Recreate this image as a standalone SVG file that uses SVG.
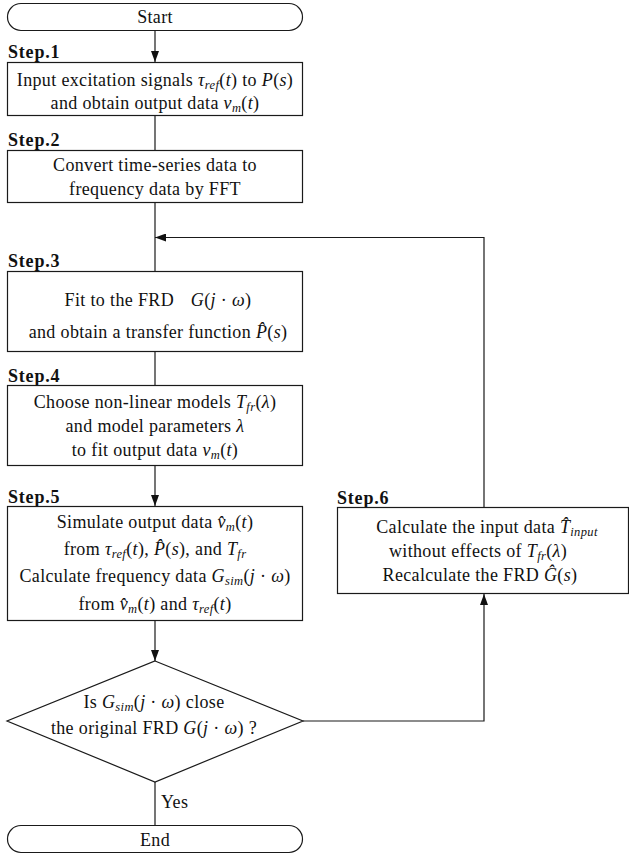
<svg xmlns="http://www.w3.org/2000/svg" width="629" height="859" viewBox="0 0 629 859">
<style>
.box{fill:#fff;stroke:#1a1a1a;stroke-width:1.2}
.ln{fill:none;stroke:#1a1a1a;stroke-width:1.2}
.t{font-family:"Liberation Serif","DejaVu Serif",serif;font-size:18px;letter-spacing:0.35px;fill:#111;text-anchor:middle}
.lbl{font-family:"Liberation Serif","DejaVu Serif",serif;font-size:18px;letter-spacing:0.8px;font-weight:bold;fill:#111}
.i{font-style:italic}
.s{font-style:italic;font-size:12.5px}
</style>
<defs>
<marker id="ah" markerUnits="userSpaceOnUse" markerWidth="11" markerHeight="8" refX="11" refY="4" orient="auto">
<path d="M0,0 L11,4 L0,8 z" fill="#111"/>
</marker>
</defs>
<g id="connectors">
<line class="ln" x1="155" y1="30" x2="155" y2="62" marker-end="url(#ah)"/>
<line class="ln" x1="155" y1="116" x2="155" y2="150"/>
<line class="ln" x1="155" y1="203" x2="155" y2="271"/>
<line class="ln" x1="155" y1="351" x2="155" y2="385"/>
<line class="ln" x1="155" y1="465" x2="155" y2="506" marker-end="url(#ah)"/>
<line class="ln" x1="155" y1="621" x2="155" y2="661" marker-end="url(#ah)"/>
<line class="ln" x1="155" y1="782" x2="155" y2="825"/>
<polyline class="ln" points="303,721 484,721 484,594" marker-end="url(#ah)"/>
<polyline class="ln" points="484,507 484,237.5 155,237.5" marker-end="url(#ah)"/>
<text class="t" x="161" y="808" style="text-anchor:start">Yes</text>
</g>
<g id="start">
<rect class="box" x="7.5" y="3.5" width="295" height="27" rx="13.5"/>
<text class="t" x="155" y="22.5">Start</text>
</g>
<g id="step1">
<text class="lbl" x="8" y="58">Step.1</text>
<rect class="box" x="7.5" y="62.5" width="295" height="53"/>
<text class="t" x="155" y="86">Input excitation signals <tspan class="i">τ</tspan><tspan class="s" dy="3">ref</tspan><tspan dy="-3">(</tspan><tspan class="i">t</tspan>) to <tspan class="i">P</tspan>(<tspan class="i">s</tspan>)</text>
<text class="t" x="155" y="108.5">and obtain output data <tspan class="i">v</tspan><tspan class="s" dy="3">m</tspan><tspan dy="-3">(</tspan><tspan class="i">t</tspan>)</text>
</g>
<g id="step2">
<text class="lbl" x="8" y="146">Step.2</text>
<rect class="box" x="7.5" y="150.5" width="295" height="52"/>
<text class="t" x="155" y="171">Convert time-series data to</text>
<text class="t" x="155" y="195">frequency data by FFT</text>
</g>
<g id="step3">
<text class="lbl" x="8" y="267">Step.3</text>
<rect class="box" x="7.5" y="271.5" width="295" height="80"/>
<text class="t" x="158" y="306">Fit to the FRD <tspan dx="12" class="i">G</tspan>(<tspan class="i">j</tspan> · <tspan class="i">ω</tspan>)</text>
<text class="t" x="158" y="338">and obtain a transfer function <tspan class="i">P&#x302;</tspan>(<tspan class="i">s</tspan>)</text>
</g>
<g id="step4">
<text class="lbl" x="8" y="382">Step.4</text>
<rect class="box" x="7.5" y="385.5" width="295" height="80"/>
<text class="t" x="155" y="408">Choose non-linear models <tspan class="i">T</tspan><tspan class="s" dy="3">fr</tspan><tspan dy="-3">(</tspan><tspan class="i">λ</tspan>)</text>
<text class="t" x="155" y="432">and model parameters <tspan class="i">λ</tspan></text>
<text class="t" x="155" y="456">to fit output data <tspan class="i">v</tspan><tspan class="s" dy="3">m</tspan><tspan dy="-3">(</tspan><tspan class="i">t</tspan>)</text>
</g>
<g id="step5">
<text class="lbl" x="8" y="503">Step.5</text>
<rect class="box" x="7.5" y="506.5" width="295" height="114"/>
<text class="t" x="155" y="528">Simulate output data <tspan class="i">v&#x302;</tspan><tspan class="s" dy="3">m</tspan><tspan dy="-3">(</tspan><tspan class="i">t</tspan>)</text>
<text class="t" x="155" y="555">from <tspan class="i">τ</tspan><tspan class="s" dy="3">ref</tspan><tspan dy="-3">(</tspan><tspan class="i">t</tspan>), <tspan class="i">P&#x302;</tspan>(<tspan class="i">s</tspan>), and <tspan class="i">T</tspan><tspan class="s" dy="3">fr</tspan></text>
<text class="t" x="155" y="582">Calculate frequency data <tspan class="i">G</tspan><tspan class="s" dy="3">sim</tspan><tspan dy="-3">(</tspan><tspan class="i">j</tspan> · <tspan class="i">ω</tspan>)</text>
<text class="t" x="155" y="610">from <tspan class="i">v&#x302;</tspan><tspan class="s" dy="3">m</tspan><tspan dy="-3">(</tspan><tspan class="i">t</tspan>) and <tspan class="i">τ</tspan><tspan class="s" dy="3">ref</tspan><tspan dy="-3">(</tspan><tspan class="i">t</tspan>)</text>
</g>
<g id="decision">
<polygon class="box" points="155,661 303,721 155,782 7,721"/>
<text class="t" x="154" y="708">Is <tspan class="i">G</tspan><tspan class="s" dy="3">sim</tspan><tspan dy="-3">(</tspan><tspan class="i">j</tspan> · <tspan class="i">ω</tspan>) close</text>
<text class="t" x="154" y="734">the original FRD <tspan class="i">G</tspan>(<tspan class="i">j</tspan> · <tspan class="i">ω</tspan>) ?</text>
</g>
<g id="step6">
<text class="lbl" x="337" y="504">Step.6</text>
<rect class="box" x="337.5" y="507.5" width="291" height="86"/>
<text class="t" x="487" y="533">Calculate the input data <tspan class="i">T&#x302;</tspan><tspan class="s" dy="3">input</tspan></text>
<text class="t" x="478" y="557">without effects of <tspan class="i">T</tspan><tspan class="s" dy="3">fr</tspan><tspan dy="-3">(</tspan><tspan class="i">λ</tspan>)</text>
<text class="t" x="480" y="581">Recalculate the FRD <tspan class="i">Ĝ</tspan>(<tspan class="i">s</tspan>)</text>
</g>
<g id="end">
<rect class="box" x="7.5" y="825.5" width="295" height="27" rx="13.5"/>
<text class="t" x="155" y="845.5">End</text>
</g>
</svg>
